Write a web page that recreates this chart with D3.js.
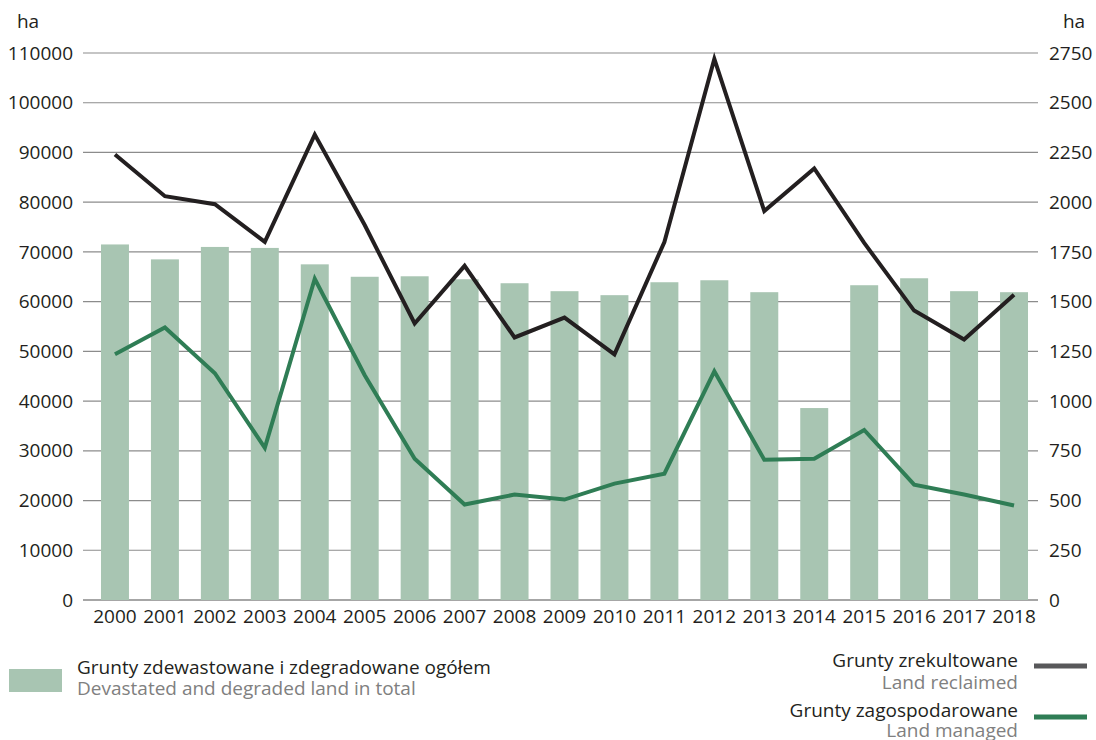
<!DOCTYPE html>
<html><head><meta charset="utf-8">
<script src="https://cdn.jsdelivr.net/npm/d3@7"></script>
<style>
body{margin:0;background:#fff;}
text{font-family:"Open Sans",sans-serif;}
</style></head>
<body><svg id="chart" width="1096" height="740"></svg>
<script>
const years = ["2000","2001","2002","2003","2004","2005","2006","2007","2008","2009","2010","2011","2012","2013","2014","2015","2016","2017","2018"];
const devastated = [71500,68500,71000,70800,67500,65000,65100,64500,63700,62100,61300,63900,64300,61900,38600,63300,64700,62100,61900];
const reclaimed = [2240,2030,1990,1800,2340,1885,1390,1680,1320,1420,1235,1800,2720,1955,2170,1795,1455,1310,1535];
const managed = [1235,1370,1140,765,1615,1130,710,480,530,505,585,635,1150,705,710,855,580,530,475];
const leftTicks = [0,10000,20000,30000,40000,50000,60000,70000,80000,90000,100000,110000];
const rightTicks = [0,250,500,750,1000,1250,1500,1750,2000,2250,2500,2750];

const svg = d3.select("#chart");
const x0 = 83, x1 = 1038, yTop = 53, yBot = 600;
const x = d3.scaleBand().domain(years).range([90, 1039]).paddingInner(0.44).paddingOuter(0.22);
const yL = d3.scaleLinear().domain([0,110000]).range([yBot,yTop]);
const yR = d3.scaleLinear().domain([0,2750]).range([yBot,yTop]);
const textCol = "#231f20";
const fs = 19;

// gridlines
svg.append("g").selectAll("line").data(leftTicks).join("line")
  .attr("x1",x0).attr("x2",x1)
  .attr("y1",d=>yL(d)).attr("y2",d=>yL(d))
  .attr("stroke",d=>d===0?"#888":"#8c8c8c").attr("stroke-width",d=>d===0?1.6:1.2);

// left axis
const gl = svg.append("g").attr("transform",`translate(${x0},0)`)
  .call(d3.axisLeft(yL).tickValues(leftTicks).tickSize(0).tickPadding(10).tickFormat(d3.format("d")));
gl.select(".domain").remove();
gl.selectAll("text").attr("font-size",fs).attr("fill",textCol).attr("font-family","Open Sans");

// right axis
const gr = svg.append("g").attr("transform",`translate(${x1},0)`)
  .call(d3.axisRight(yR).tickValues(rightTicks).tickSize(0).tickPadding(11).tickFormat(d3.format("d")));
gr.select(".domain").remove();
gr.selectAll("text").attr("font-size",fs).attr("fill",textCol).attr("font-family","Open Sans");

// bars
svg.append("g").selectAll("rect").data(devastated).join("rect")
  .attr("x",(d,i)=>x(years[i])).attr("width",x.bandwidth())
  .attr("y",d=>yL(d)).attr("height",d=>yBot-yL(d))
  .attr("fill","#a8c5b2");

// x axis
const gx = svg.append("g").attr("transform",`translate(0,${yBot})`)
  .call(d3.axisBottom(x).tickSize(0).tickPadding(10));
gx.select(".domain").remove();
gx.selectAll("text").attr("font-size",fs).attr("fill",textCol).attr("font-family","Open Sans");

// lines
const cx = i => x(years[i]) + x.bandwidth()/2;
const lineR = d3.line().x((d,i)=>cx(i)).y(d=>yR(d));
svg.append("path").datum(managed).attr("d",lineR)
  .attr("fill","none").attr("stroke","#2f7d55").attr("stroke-width",4).attr("stroke-linejoin","miter");
svg.append("path").datum(reclaimed).attr("d",lineR)
  .attr("fill","none").attr("stroke","#231f20").attr("stroke-width",4).attr("stroke-linejoin","miter");

// units
svg.append("text").attr("x",28).attr("y",28).attr("text-anchor","middle").attr("font-size",fs).attr("fill",textCol).text("ha");
svg.append("text").attr("x",1074).attr("y",28).attr("text-anchor","middle").attr("font-size",fs).attr("fill",textCol).text("ha");

// legend
svg.append("rect").attr("x",9).attr("y",669).attr("width",53).attr("height",23).attr("fill","#a8c5b2");
svg.append("text").attr("x",77).attr("y",674).attr("font-size",fs).attr("fill",textCol).text("Grunty zdewastowane i zdegradowane ogółem");
svg.append("text").attr("x",77).attr("y",695).attr("font-size",fs).attr("fill","#808080").text("Devastated and degraded land in total");

svg.append("line").attr("x1",1034).attr("x2",1087).attr("y1",666).attr("y2",666).attr("stroke","#58585a").attr("stroke-width",5);
svg.append("text").attr("x",1018).attr("y",667).attr("text-anchor","end").attr("font-size",fs).attr("fill",textCol).text("Grunty zrekultowane");
svg.append("text").attr("x",1018).attr("y",689).attr("text-anchor","end").attr("font-size",fs).attr("fill","#808080").text("Land reclaimed");

svg.append("line").attr("x1",1034).attr("x2",1087).attr("y1",717).attr("y2",717).attr("stroke","#2f7d55").attr("stroke-width",5);
svg.append("text").attr("x",1018).attr("y",717).attr("text-anchor","end").attr("font-size",fs).attr("fill",textCol).text("Grunty zagospodarowane");
svg.append("text").attr("x",1018).attr("y",737).attr("text-anchor","end").attr("font-size",fs).attr("fill","#808080").text("Land managed");
</script></body></html>
